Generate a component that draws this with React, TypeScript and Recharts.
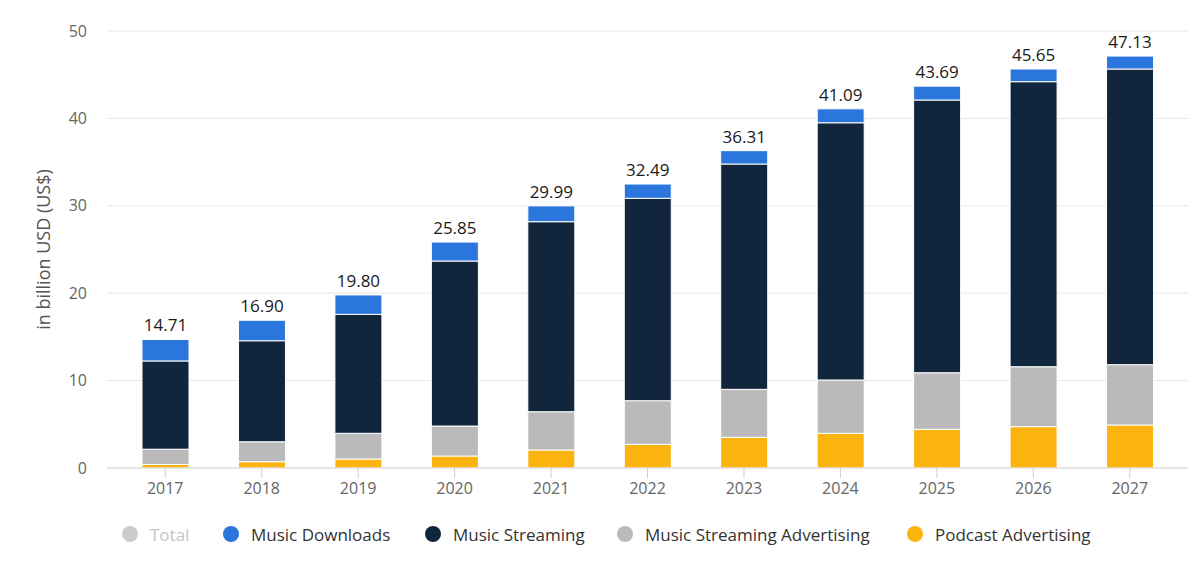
import React from "react";
import { BarChart, Bar, XAxis, YAxis, CartesianGrid, LabelList, Label } from "recharts";

const years = ["2017", "2018", "2019", "2020", "2021", "2022", "2023", "2024", "2025", "2026", "2027"];
const podcastAdvertising = [0.4, 0.72, 1.03, 1.37, 2.06, 2.71, 3.51, 3.97, 4.43, 4.73, 4.92];
const musicStreamingAdvertising = [1.75, 2.28, 2.94, 3.43, 4.38, 4.99, 5.49, 6.1, 6.47, 6.86, 6.9];
const musicStreaming = [10.1, 11.56, 13.61, 18.88, 21.74, 23.16, 25.78, 29.43, 31.2, 32.61, 33.83];
const musicDownloads = [2.46, 2.34, 2.22, 2.17, 1.81, 1.63, 1.53, 1.59, 1.59, 1.45, 1.48];
const totals = [14.71, 16.9, 19.8, 25.85, 29.99, 32.49, 36.31, 41.09, 43.69, 45.65, 47.13];
const yTicks = [0, 10, 20, 30, 40, 50];

const COLORS = {
  total: "#cccccc",
  downloads: "#2a76dc",
  streaming: "#11263c",
  streamingAd: "#bababa",
  podcast: "#fbb40d",
};

const legendItems = [
  { name: "Total", color: COLORS.total, text: "#c4c4c4", cx: 130 },
  { name: "Music Downloads", color: COLORS.downloads, text: "#333333", cx: 231 },
  { name: "Music Streaming", color: COLORS.streaming, text: "#333333", cx: 433 },
  { name: "Music Streaming Advertising", color: COLORS.streamingAd, text: "#333333", cx: 625 },
  { name: "Podcast Advertising", color: COLORS.podcast, text: "#333333", cx: 915 },
];

const data = years.map((y, i) => ({
  year: y,
  podcast: podcastAdvertising[i],
  streamingAd: musicStreamingAdvertising[i],
  streaming: musicStreaming[i],
  downloads: musicDownloads[i],
  total: totals[i],
}));

const FONT = "'Open Sans', Roboto, sans-serif";

const YLabel = (props: any) => {
  const vb = props.viewBox || {};
  const cy = (vb.y ?? 31) + (vb.height ?? 437) / 2;
  const cx = 43;
  return (
    <text
      x={cx}
      y={cy}
      transform={`rotate(-90, ${cx}, ${cy})`}
      textAnchor="middle"
      dominantBaseline="central"
      fill="#555555"
      fontSize={18}
      fontFamily={FONT}
    >
      in billion USD (US$)
    </text>
  );
};

export default function App() {
  return (
    <div style={{ position: "absolute", left: 0, top: 0, width: 1200, height: 578, background: "#ffffff" }}>
      <BarChart
        width={1200}
        height={578}
        data={data}
        margin={{ top: 31, right: 12, bottom: 70, left: 0 }}
      >
        <CartesianGrid vertical={false} stroke="#e6e6e6" />
        <XAxis
          dataKey="year"
          padding={{ left: 10, right: 10 }}
          axisLine={{ stroke: "#d6d6d6" }}
          tickLine={{ stroke: "#cfcfcf" }}
          tickSize={10}
          tickMargin={5}
          tick={{ fill: "#666666", fontSize: 16, fontFamily: FONT }}
          height={40}
        />
        <YAxis
          width={107}
          domain={[0, 50]}
          ticks={yTicks}
          axisLine={false}
          tickLine={false}
          tickMargin={14}
          tick={{ fill: "#666666", fontSize: 16, fontFamily: FONT }}
        >
          <Label content={<YLabel />} />
        </YAxis>
        <Bar dataKey="podcast" stackId="a" fill={COLORS.podcast} stroke="#ffffff" strokeWidth={1} barSize={47} isAnimationActive={false} />
        <Bar dataKey="streamingAd" stackId="a" fill={COLORS.streamingAd} stroke="#ffffff" strokeWidth={1} barSize={47} isAnimationActive={false} />
        <Bar dataKey="streaming" stackId="a" fill={COLORS.streaming} stroke="#ffffff" strokeWidth={1} barSize={47} isAnimationActive={false} />
        <Bar dataKey="downloads" stackId="a" fill={COLORS.downloads} stroke="#ffffff" strokeWidth={1} barSize={47} isAnimationActive={false}>
          <LabelList
            dataKey="total"
            position="top"
            offset={8}
            formatter={(v: any) => Number(v).toFixed(2)}
            style={{ fill: "#1a1a1a", fontSize: 17, fontWeight: 500, fontFamily: FONT }}
          />
        </Bar>
      </BarChart>
      {legendItems.map((it) => (
        <div
          key={it.name}
          style={{
            position: "absolute",
            left: it.cx - 8,
            top: 522,
            height: 24,
            display: "flex",
            alignItems: "center",
            fontFamily: FONT,
            fontSize: 17,
            fontWeight: 500,
            whiteSpace: "nowrap",
          }}
        >
          <span
            style={{
              display: "inline-block",
              width: 16,
              height: 16,
              borderRadius: "50%",
              background: it.color,
              marginRight: 12,
            }}
          />
          <span style={{ color: it.text }}>{it.name}</span>
        </div>
      ))}
    </div>
  );
}
